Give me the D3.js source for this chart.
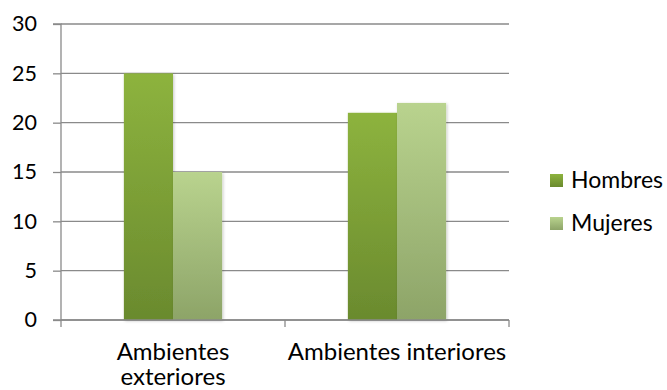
<!DOCTYPE html>
<html>
<head>
<meta charset="utf-8">
<script src="https://cdn.jsdelivr.net/npm/d3@7"></script>
<style>
  html, body { margin: 0; padding: 0; background: #fff; }
  svg { display: block; font-family: Lato, "Open Sans", sans-serif; }
</style>
</head>
<body>
<svg id="chart" width="667" height="390"></svg>
<script>
// Data
const categories = ["Ambientes exteriores", "Ambientes interiores"];
const seriesNames = ["Hombres", "Mujeres"];
const hombres = [25, 21];
const mujeres = [15, 22];
const yTicks = [0, 5, 10, 15, 20, 25, 30];

const svg = d3.select("#chart");
const plotLeft = 61, plotRight = 509, plotTop = 24, plotBottom = 320;
const axisColor = "#8a8a8a";

const x = d3.scaleBand().domain(categories).range([plotLeft, plotRight]).paddingInner(0).paddingOuter(0);
const xs = d3.scaleBand().domain(seriesNames).range([0, x.bandwidth()]).paddingInner(0).paddingOuter(1.28);
const y = d3.scaleLinear().domain([0, 30]).range([plotBottom, plotTop]);

const defs = svg.append("defs");
const grads = [
  { id: "gH", top: "#8db33e", bottom: "#6a8a2e" },
  { id: "gM", top: "#b9d38e", bottom: "#8da468" }
];
grads.forEach(g => {
  const lg = defs.append("linearGradient").attr("id", g.id).attr("x1", 0).attr("y1", 0).attr("x2", 0).attr("y2", 1);
  lg.append("stop").attr("offset", "0%").attr("stop-color", g.top);
  lg.append("stop").attr("offset", "100%").attr("stop-color", g.bottom);
});
const f = defs.append("filter").attr("id", "shadow").attr("x", "-20%").attr("y", "-10%").attr("width", "140%").attr("height", "120%");
f.append("feDropShadow").attr("dx", 1).attr("dy", 1).attr("stdDeviation", 1.5).attr("flood-color", "#000").attr("flood-opacity", 0.22);

// Gridlines
svg.append("g")
  .selectAll("line").data(yTicks).join("line")
  .attr("x1", plotLeft).attr("x2", plotRight)
  .attr("y1", d => y(d)).attr("y2", d => y(d))
  .attr("stroke", axisColor).attr("stroke-width", 1.3);

// Y axis
const yAxis = d3.axisLeft(y).tickValues(yTicks).tickSize(8).tickPadding(16).tickFormat(d3.format("d"));
const gy = svg.append("g").attr("transform", `translate(${plotLeft},0)`).call(yAxis);
gy.select(".domain").attr("stroke", axisColor).attr("stroke-width", 1.3).attr("d", `M-8,${plotTop}H0V${plotBottom}H-8`);
gy.selectAll(".tick line").attr("stroke", axisColor).attr("stroke-width", 1.3);
gy.selectAll(".tick text").attr("fill", "#000").attr("font-size", 21.5).attr("font-family", "Lato, sans-serif");

// Bars
const data = categories.map((c, i) => ({ c, vals: [hombres[i], mujeres[i]] }));
const groups = svg.append("g").selectAll("g").data(data).join("g")
  .attr("transform", d => `translate(${x(d.c)},0)`);
groups.selectAll("rect").data(d => d.vals.map((v, j) => ({ s: seriesNames[j], v, j }))).join("rect")
  .attr("x", d => xs(d.s))
  .attr("width", xs.bandwidth())
  .attr("y", d => y(d.v))
  .attr("height", d => y(0) - y(d.v))
  .attr("fill", d => d.j === 0 ? "url(#gH)" : "url(#gM)")
  .attr("filter", "url(#shadow)");

// X axis
const gx = svg.append("g").attr("transform", `translate(0,${plotBottom})`);
gx.append("line").attr("x1", plotLeft).attr("x2", plotRight).attr("stroke", axisColor).attr("stroke-width", 1.3);
const xEdges = [plotLeft, ...categories.map(c => x(c) + x.bandwidth())];
gx.selectAll("line.tick").data(xEdges).join("line").attr("class", "tick")
  .attr("x1", d => d).attr("x2", d => d).attr("y1", 0).attr("y2", 7)
  .attr("stroke", axisColor).attr("stroke-width", 1.3);

const xLabelLines = [["Ambientes", "exteriores"], ["Ambientes interiores"]];
categories.forEach((c, i) => {
  const cx = x(c) + x.bandwidth() / 2;
  const t = gx.append("text").attr("text-anchor", "middle").attr("font-size", 24).attr("fill", "#000")
    .attr("x", cx).attr("y", 40);
  xLabelLines[i].forEach((ln, k) => t.append("tspan").attr("x", cx).attr("dy", k === 0 ? 0 : 25).text(ln));
});

// Legend
const legend = svg.append("g").attr("transform", "translate(550,174)");
seriesNames.forEach((s, i) => {
  const g = legend.append("g").attr("transform", `translate(0,${i * 43})`);
  g.append("rect").attr("width", 13).attr("height", 13).attr("fill", i === 0 ? "url(#gH)" : "url(#gM)");
  g.append("text").attr("x", 21).attr("y", 14).attr("font-size", 23).attr("fill", "#000").text(s);
});
</script>
</body>
</html>
